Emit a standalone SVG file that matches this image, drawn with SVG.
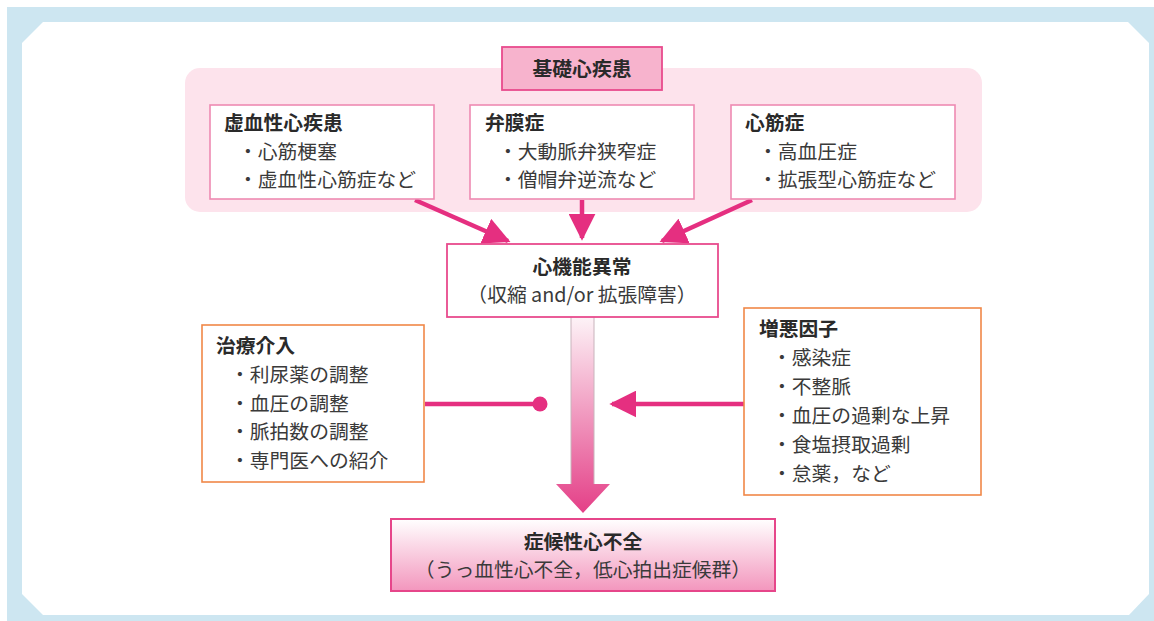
<svg xmlns="http://www.w3.org/2000/svg" width="1154" height="621" viewBox="0 0 1154 621">
<defs>
<style>
text{font-family:"Noto Sans CJK JP","Noto Sans",sans-serif;font-size:19.8px;fill:#3a3a3a}
.t{font-weight:bold;fill:#2a2a2a}
.c{text-anchor:middle}
.sub{stroke:#ee8ab2;stroke-width:1.6;fill:#fff}
.org{stroke:#f08848;stroke-width:1.6;fill:#fff}
.con{stroke:#e52f80;stroke-width:4.5;fill:none}
</style>
<linearGradient id="gBot" x1="0" y1="0" x2="0" y2="1">
<stop offset="0" stop-color="#ffffff"/>
<stop offset="1" stop-color="#f396bd"/>
</linearGradient>
<linearGradient id="gArr" x1="0" y1="317" x2="0" y2="513" gradientUnits="userSpaceOnUse">
<stop offset="0" stop-color="#fdf3f7"/>
<stop offset="1" stop-color="#e43f87"/>
</linearGradient>
<marker id="ah" viewBox="0 0 10 10" refX="9" refY="5" markerWidth="6" markerHeight="6" markerUnits="strokeWidth" orient="auto">
<path d="M0,0 L10,5 L0,10 z" fill="#e52f80"/>
</marker>
</defs>
<rect x="7" y="7" width="1147" height="614" fill="#cde6f1"/>
<polygon points="43,22 1128,22 1149,43 1149,594 1129,615 43,615 22,594 22,43" fill="#fff"/>
<rect x="185" y="68" width="797" height="144" rx="15" fill="#fde3ec"/>

<g id="connectors">
<line class="con" x1="415" y1="200" x2="508" y2="241" marker-end="url(#ah)"/>
<line class="con" x1="582" y1="200" x2="582" y2="238" marker-end="url(#ah)"/>
<line class="con" x1="752" y1="200" x2="662" y2="241" marker-end="url(#ah)"/>
<line class="con" x1="425" y1="404" x2="538" y2="404"/>
<circle cx="540" cy="404" r="7.5" fill="#e52f80"/>
<line class="con" x1="744" y1="404" x2="612" y2="404" marker-end="url(#ah)"/>
<path d="M571,317 L594,317 L594,484 L610,484 L583,513 L556,484 L571,484 Z" fill="url(#gArr)"/>
<path d="M571,317 L571,484 M594,317 L594,484" stroke="#c8b4bc" stroke-width="1" fill="none"/>
</g>

<g id="base">
<rect x="502" y="47" width="160" height="43" fill="#f7b3cd" stroke="#e84b8d" stroke-width="1.8"/>
<text class="t c" x="582" y="76">基礎心疾患</text>
</g>

<g id="ischemic">
<rect class="sub" x="210" y="105" width="224" height="94"/>
<text class="t" x="224" y="130">虚血性心疾患</text>
<text x="238" y="159">・心筋梗塞</text>
<text x="238" y="187">・虚血性心筋症など</text>
</g>

<g id="valve">
<rect class="sub" x="470" y="105" width="224" height="94"/>
<text class="t" x="485" y="130">弁膜症</text>
<text x="498" y="159">・大動脈弁狭窄症</text>
<text x="498" y="187">・僧帽弁逆流など</text>
</g>

<g id="cardiomyopathy">
<rect class="sub" x="731" y="105" width="224" height="94"/>
<text class="t" x="745" y="130">心筋症</text>
<text x="758" y="159">・高血圧症</text>
<text x="758" y="187">・拡張型心筋症など</text>
</g>

<g id="dysfunction">
<rect x="447" y="244" width="271" height="73" fill="#fff" stroke="#e84b8d" stroke-width="1.8"/>
<text class="t c" x="582" y="274">心機能異常</text>
<text class="c" x="582" y="302">（収縮 and/or 拡張障害）</text>
</g>

<g id="treatment">
<rect class="org" x="202" y="325" width="222" height="157"/>
<text class="t" x="216" y="353">治療介入</text>
<text x="230" y="382">・利尿薬の調整</text>
<text x="230" y="411">・血圧の調整</text>
<text x="230" y="439">・脈拍数の調整</text>
<text x="230" y="468">・専門医への紹介</text>
</g>

<g id="aggravating">
<rect class="org" x="744" y="308" width="237" height="187"/>
<text class="t" x="759" y="336">増悪因子</text>
<text x="772" y="365">・感染症</text>
<text x="772" y="394">・不整脈</text>
<text x="772" y="423">・血圧の過剰な上昇</text>
<text x="772" y="452">・食塩摂取過剰</text>
<text x="772" y="481">・怠薬，など</text>
</g>

<g id="heartfailure">
<rect x="391" y="519" width="384" height="72" fill="url(#gBot)" stroke="#e6468a" stroke-width="2"/>
<text class="t c" x="583" y="549">症候性心不全</text>
<text class="c" x="583" y="577">（うっ血性心不全，低心拍出症候群）</text>
</g>
</svg>
